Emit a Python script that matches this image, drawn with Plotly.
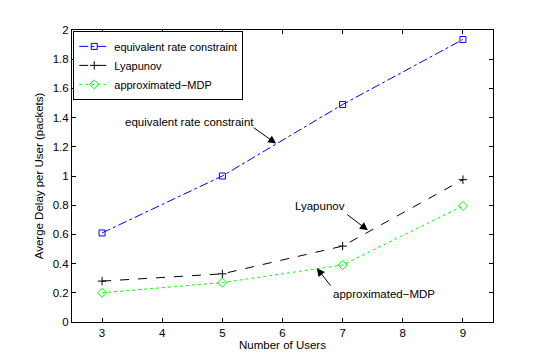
import plotly.graph_objects as go

users = [3, 5, 7, 9]
equiv_rate = [0.61, 1.00, 1.49, 1.935]
lyapunov = [0.28, 0.33, 0.52, 0.975]
approx_mdp = [0.20, 0.27, 0.39, 0.795]

x_ticks = [3, 4, 5, 6, 7, 8, 9]
y_ticks = [0, 0.2, 0.4, 0.6, 0.8, 1, 1.2, 1.4, 1.6, 1.8, 2]
y_tick_text = ["0", "0.2", "0.4", "0.6", "0.8", "1", "1.2", "1.4", "1.6", "1.8", "2"]

font = dict(family="Liberation Sans, Arial, sans-serif", size=11.5, color="black")
legend_font = dict(family="Liberation Sans, Arial, sans-serif", size=11, color="black")

fig = go.Figure()
fig.add_trace(go.Scatter(
    x=users, y=equiv_rate, name="equivalent rate constraint", mode="lines+markers",
    line=dict(color="#0000ff", dash="dashdot", width=1),
    marker=dict(symbol="square-open", size=6, color="#0000ff", line=dict(width=1)),
))
fig.add_trace(go.Scatter(
    x=users, y=lyapunov, name="Lyapunov", mode="lines+markers",
    line=dict(color="black", dash="dash", width=1),
    marker=dict(symbol="cross-thin-open", size=6, color="black", line=dict(width=1, color="black")),
))
fig.add_trace(go.Scatter(
    x=users, y=approx_mdp, name="approximated\u2212MDP", mode="lines+markers",
    line=dict(color="#00ff00", dash="dot", width=1),
    marker=dict(symbol="diamond-open", size=7, color="#00ff00", line=dict(width=1)),
))

# text labels
for txt, tx, ty in [("equivalent rate constraint", 4.45, 1.372),
                    ("Lyapunov", 6.62, 0.792),
                    ("approximated\u2212MDP", 7.68, 0.191)]:
    fig.add_annotation(x=tx, y=ty, text=txt, showarrow=False, font=font)

# arrows (head, tail)
for hx, hy, tx, ty in [(5.894, 1.222, 5.497, 1.338),
                       (7.42, 0.628, 7.05, 0.744),
                       (6.57, 0.369, 6.82, 0.239)]:
    fig.add_annotation(x=hx, y=hy, ax=tx, ay=ty, axref="x", ayref="y", text="",
                       showarrow=True, arrowhead=2, arrowsize=1.6, arrowwidth=1,
                       arrowcolor="black")

# page body adds an 8px offset, margins compensate
fig.update_layout(
    width=545, height=361,
    margin=dict(l=64, r=60, t=22, b=47),
    paper_bgcolor="white", plot_bgcolor="white",
    font=font,
    showlegend=True,
    legend=dict(x=0.003, y=0.997, xanchor="left", yanchor="top",
                bordercolor="black", borderwidth=1, bgcolor="white",
                font=legend_font, tracegroupgap=0, itemwidth=30),
)
fig.update_xaxes(range=[2.5, 9.5], tickvals=x_ticks, showgrid=False, zeroline=False,
                 showline=True, linecolor="black", linewidth=1, mirror="ticks",
                 ticks="inside", ticklen=4, tickcolor="black",
                 title=dict(text="Number of Users", font=font, standoff=2))
fig.update_yaxes(range=[0, 2], tickvals=y_ticks, ticktext=y_tick_text, showgrid=False,
                 zeroline=False, showline=True, linecolor="black", linewidth=1,
                 mirror="ticks", ticks="inside", ticklen=4, tickcolor="black",
                 title=dict(text="Averge Delay per User (packets)", font=font, standoff=6))

fig.write_html("out.html")
